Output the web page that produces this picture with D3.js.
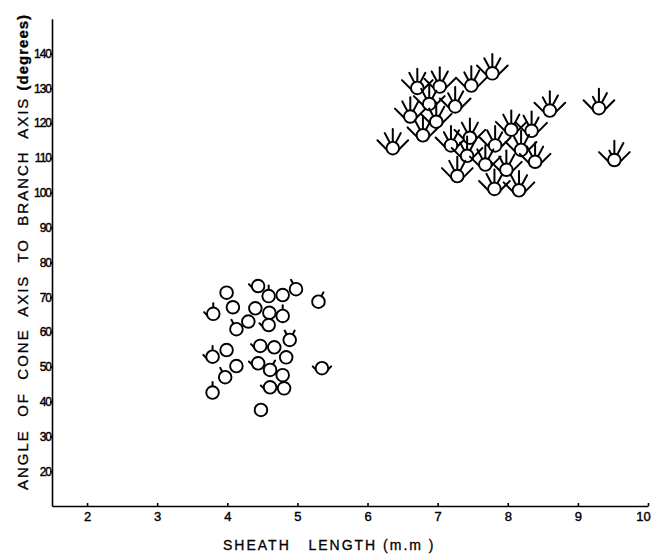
<!DOCTYPE html>
<html>
<head>
<meta charset="utf-8">
<script src="https://d3js.org/d3.v7.min.js"></script>
<style>
body { margin: 0; background: #fff; }
text { fill: #000; }
</style>
</head>
<body>
<div id="chart"></div>
<script>
// sheath length (mm) and cone angle (degrees), upper cluster then lower cluster
const sheath = [6.71, 7.03, 7.48, 7.78, 6.88, 7.25, 6.61, 6.98, 6.79, 6.36, 7.19, 7.46, 7.82,
  7.42, 7.68, 7.28, 8.60, 9.30, 9.52, 8.05, 8.34, 8.19, 8.39, 7.98, 7.81, 8.16,
  4.44, 3.99, 4.59, 4.79, 4.98, 5.30, 4.08, 3.80, 4.40, 4.60, 4.79, 4.30, 4.13, 4.59, 4.89,
  3.99, 4.47, 4.67, 3.79, 4.84, 4.13, 4.44, 4.61, 5.35, 3.97, 4.79, 4.61, 4.81, 3.79, 4.48];
const coneAngle = [130.1, 130.5, 130.8, 134.3, 125.5, 124.8, 121.9, 120.4, 116.5, 112.8, 113.6, 115.8, 113.6,
  110.6, 108.1, 104.8, 123.6, 124.3, 109.4, 118.1, 117.8, 112.3, 108.9, 106.6, 101.1, 100.7,
  73.2, 71.3, 70.3, 70.6, 72.3, 68.7, 67.1, 65.2, 66.8, 65.5, 64.6, 63.0, 60.8, 62.0, 57.7,
  54.8, 56.0, 55.6, 52.9, 52.7, 50.2, 51.0, 49.1, 49.6, 47.0, 47.6, 44.1, 43.8, 42.6, 37.6];

// glyph ray scores (0 = absent, 3 = longest)
const armLeft = [3,3,3,3,3,3,3,3,3,3,3,3,3,3,3,3,3,3,3,3,3,3,3,3,3,3,
  1,0,0,0,0,0,0,1,0,0,0,0,0,1,0,0,1,0,1,0,0,1,0,1,0,0,1,0,0,0];
const rayLeft = [2.5,2.5,2,2.5,2.5,2,2.5,2,2.5,2.5,2,2.5,2.5,2,2.5,2.5,2,1.5,1,2.5,2.5,2,2.5,2,2.5,2.5,
  0,0,0,0,1,0,0,0,0,0,0,0,1,0,1,0,0,0,0,0,0,0,0,0,1,0,0,0,0,0];
const rayTop = [3,3,3,3,3,3,3,3,3,3,3,3,3,3,3,3,3,3,3,3,3,3,3,3,3,3,
  0,0,1,0,0,0,0,1,0,0,1,0,0,0,0,0,0,0,1,0,0,0,0,0,0,0,0,0,1,0];
const rayRight = [2.5,2.5,2.5,2.5,2,2.5,2.5,2.5,2,2.5,2.5,2.5,2,2.5,2.5,2.5,2.5,2.5,3,2.5,2,2.5,2.5,2.5,2,2.5,
  0,0,0,0,0,1,0,0,0,0,0,0,0,0,1,0,0,0,0,0,0,0,1,0,0,0,0,0,0,0];
const armRight = [3,3,3,3,3,3,3,3,3,3,3,3,3,3,3,3,3,3,3,3,3,3,3,3,3,3,
  0,0,0,0,0,0,0,0,0,0,0,0,0,0,0,0,0,0,0,0,0,0,0,1,0,0,0,0,0,0];

const xTicks = [2, 3, 4, 5, 6, 7, 8, 9, 10];
const yTicks = [20, 30, 40, 50, 60, 70, 80, 90, 100, 110, 120, 130, 140];

const W = 654, H = 555;
const FONT = "'Liberation Sans', Arial, sans-serif";
const svg = d3.select("#chart").append("svg")
  .attr("width", W).attr("height", H);

const x = d3.scaleLinear().domain([1.5, 10]).range([52, 648]);
const y = d3.scaleLinear().domain([10, 150]).range([506, 18.7]);
const len = d3.scaleLinear().domain([0, 3]).range([0, 13]);

// axes
const yAxis = svg.append("g")
  .attr("transform", "translate(52,0)")
  .call(d3.axisLeft(y).tickValues(yTicks).tickSizeInner(2).tickSizeOuter(0).tickPadding(-1));
yAxis.selectAll("text")
  .style("font-family", FONT)
  .style("font-size", "12px").style("letter-spacing", "-1px")
  .attr("stroke", "#000").attr("stroke-width", 0.4);

const xAxis = svg.append("g")
  .attr("transform", "translate(0,506)")
  .call(d3.axisBottom(x).tickValues(xTicks).tickSizeInner(-3).tickSizeOuter(0).tickPadding(6));
xAxis.selectAll("text")
  .style("font-family", FONT)
  .style("font-size", "13px")
  .attr("stroke", "#000").attr("stroke-width", 0.4)
  .attr("dx", d => d === 10 ? -5 : 0);

svg.selectAll(".domain").attr("stroke", "#000").attr("stroke-width", 1.6);
svg.selectAll(".tick line").attr("stroke", "#000").attr("stroke-width", 1.6);

// axis titles
svg.append("text")
  .attr("x", 223).attr("y", 550)
  .style("font-family", FONT)
  .style("font-size", "14px").style("letter-spacing", "2px")
  .style("white-space", "pre")
  .attr("stroke", "#000").attr("stroke-width", 0.3)
  .text("SHEATH   LENGTH (m.m )");

const yt = svg.append("text")
  .attr("transform", "translate(28,490) rotate(-90)")
  .style("font-family", FONT)
  .style("font-size", "15px").style("letter-spacing", "2px")
  .style("white-space", "pre")
  .attr("stroke", "#000").attr("stroke-width", 0.3);
yt.append("tspan").text("ANGLE  OF  CONE  AXIS  TO  BRANCH  AXIS ");
yt.append("tspan").style("font-weight", "bold").style("letter-spacing", "1px").text("(degrees)");

// glyphs
const r = 6.3;
const rad = Math.PI / 180;
const pts = sheath.map((s, i) => ({
  s, a: coneAngle[i],
  aL: armLeft[i], rL: rayLeft[i], rT: rayTop[i], rR: rayRight[i], aR: armRight[i]
}));

const glyph = svg.append("g").selectAll("g").data(pts).join("g")
  .attr("transform", d => `translate(${x(d.s)},${y(d.a)})`);

glyph.each(function (d) {
  const g = d3.select(this);
  const segs = [];
  // side arms: start on the lower side of the circle, go up and out at 45 degrees
  const sx = r * Math.cos(12 * rad), sy = r * Math.sin(12 * rad);
  if (d.aL) segs.push([-sx, sy, -sx - len(d.aL) * Math.cos(45 * rad), sy - len(d.aL) * Math.sin(45 * rad)]);
  if (d.aR) segs.push([sx, sy, sx + len(d.aR) * Math.cos(45 * rad), sy - len(d.aR) * Math.sin(45 * rad)]);
  // top fan
  [[d.rL, -28], [d.rT, 0], [d.rR, 28]].forEach(([v, ang]) => {
    if (!v) return;
    const ux = Math.sin(ang * rad), uy = -Math.cos(ang * rad);
    segs.push([r * ux, r * uy, (r + len(v)) * ux, (r + len(v)) * uy]);
  });
  g.selectAll("line").data(segs).join("line")
    .attr("x1", s => s[0]).attr("y1", s => s[1])
    .attr("x2", s => s[2]).attr("y2", s => s[3])
    .attr("stroke", "#000").attr("stroke-width", 2).attr("stroke-linecap", "round");
  g.append("circle").attr("r", r)
    .attr("fill", "#fff").attr("stroke", "#000").attr("stroke-width", 1.9);
});
</script>
</body>
</html>
